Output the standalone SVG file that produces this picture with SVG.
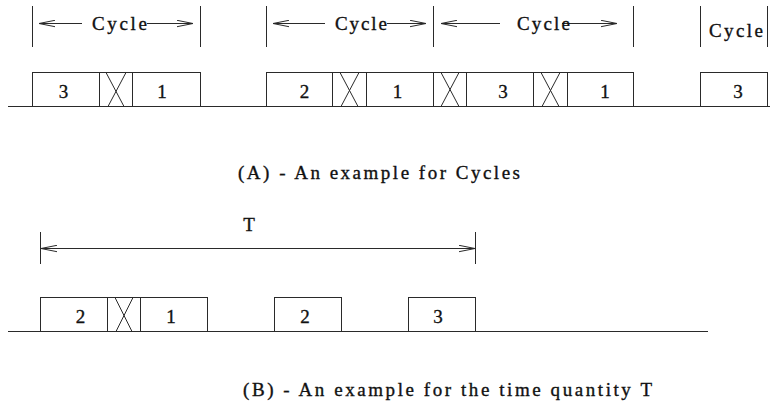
<svg xmlns="http://www.w3.org/2000/svg" width="772" height="416" viewBox="0 0 772 416">
<style>
.ln{stroke:#2a2a2a;stroke-width:1;fill:none}
.bx{stroke:#2a2a2a;stroke-width:1;fill:#fff}
.t{fill:#111;stroke:#111;stroke-width:0.35}
.d{fill:#111;stroke:#111;stroke-width:0.35;text-anchor:middle}
</style>
<defs>
<marker id="ah" viewBox="0 0 16 8" refX="16" refY="4" markerWidth="16" markerHeight="8" markerUnits="userSpaceOnUse" orient="auto-start-reverse">
<path d="M0,0.8 L16,4 L0,7.2" fill="none" stroke="#2a2a2a" stroke-width="1"/>
</marker>
</defs>
<rect width="772" height="416" fill="#fff"/>

<g id="axes">
<line class="ln" x1="8" y1="106.5" x2="770" y2="106.5"/>
<line class="ln" x1="8" y1="331.5" x2="708" y2="331.5"/>
</g>

<g id="connectors">
<line class="ln" x1="32.5" y1="6" x2="32.5" y2="47"/>
<line class="ln" x1="200.5" y1="6" x2="200.5" y2="47"/>
<line class="ln" x1="82" y1="23.5" x2="39" y2="23.5" marker-end="url(#ah)"/>
<line class="ln" x1="147" y1="23.5" x2="193" y2="23.5" marker-end="url(#ah)"/>
<line class="ln" x1="266.5" y1="6" x2="266.5" y2="47"/>
<line class="ln" x1="433.5" y1="6" x2="433.5" y2="47"/>
<line class="ln" x1="325" y1="23.5" x2="273" y2="23.5" marker-end="url(#ah)"/>
<line class="ln" x1="387" y1="23.5" x2="426" y2="23.5" marker-end="url(#ah)"/>
<line class="ln" x1="633.5" y1="6" x2="633.5" y2="47"/>
<line class="ln" x1="500" y1="23.5" x2="441" y2="23.5" marker-end="url(#ah)"/>
<line class="ln" x1="562" y1="23.5" x2="617" y2="23.5" marker-end="url(#ah)"/>
<line class="ln" x1="700.5" y1="6" x2="700.5" y2="47"/>
<line class="ln" x1="767.5" y1="6" x2="767.5" y2="47"/>
<line class="ln" x1="40.5" y1="232" x2="40.5" y2="264"/>
<line class="ln" x1="475.5" y1="232" x2="475.5" y2="264"/>
<line class="ln" x1="41" y1="248.5" x2="475" y2="248.5" marker-start="url(#ah)" marker-end="url(#ah)"/>
</g>

<g font-family="Liberation Serif, DejaVu Serif, serif" font-size="19">
<g id="cycle-labels">
<text class="t" x="92" y="30" textLength="55" lengthAdjust="spacing">Cycle</text>
<text class="t" x="335" y="30" textLength="52" lengthAdjust="spacing">Cycle</text>
<text class="t" x="517" y="30" textLength="53" lengthAdjust="spacing">Cycle</text>
<text class="t" x="709" y="37" textLength="54" lengthAdjust="spacing">Cycle</text>
<text class="t" x="249" y="231" text-anchor="middle">T</text>
</g>

<g id="a1"><rect class="bx" x="32.5" y="72.5" width="67" height="34"/><text class="d" x="63.5" y="98">3</text></g>
<g id="a2"><rect class="bx" x="99.5" y="72.5" width="33" height="34"/><path class="ln" d="M106,72.5 L124,106.5 M126,72.5 L108,106.5"/></g>
<g id="a3"><rect class="bx" x="132.5" y="72.5" width="68" height="34"/><text class="d" x="162" y="98">1</text></g>
<g id="a4"><rect class="bx" x="266.5" y="72.5" width="66" height="34"/><text class="d" x="304.5" y="98">2</text></g>
<g id="a5"><rect class="bx" x="332.5" y="72.5" width="34" height="34"/><path class="ln" d="M340,72.5 L358,106.5 M359,72.5 L341,106.5"/></g>
<g id="a6"><rect class="bx" x="366.5" y="72.5" width="67" height="34"/><text class="d" x="397.5" y="98">1</text></g>
<g id="a7"><rect class="bx" x="433.5" y="72.5" width="33" height="34"/><path class="ln" d="M441,72.5 L459,106.5 M459,72.5 L441,106.5"/></g>
<g id="a8"><rect class="bx" x="466.5" y="72.5" width="67" height="34"/><text class="d" x="503" y="98">3</text></g>
<g id="a9"><rect class="bx" x="533.5" y="72.5" width="34" height="34"/><path class="ln" d="M541,72.5 L559,106.5 M560,72.5 L542,106.5"/></g>
<g id="a10"><rect class="bx" x="567.5" y="72.5" width="66" height="34"/><text class="d" x="605" y="98">1</text></g>
<g id="a11"><rect class="bx" x="700.5" y="72.5" width="67" height="34"/><text class="d" x="738" y="98">3</text></g>

<g id="b1"><rect class="bx" x="40.5" y="297.5" width="67" height="34"/><text class="d" x="80.5" y="323">2</text></g>
<g id="b2"><rect class="bx" x="107.5" y="297.5" width="33" height="34"/><path class="ln" d="M115,297.5 L132,331.5 M133,297.5 L116,331.5"/></g>
<g id="b3"><rect class="bx" x="140.5" y="297.5" width="67" height="34"/><text class="d" x="171" y="323">1</text></g>
<g id="b4"><rect class="bx" x="274.5" y="297.5" width="67" height="34"/><text class="d" x="305" y="323">2</text></g>
<g id="b5"><rect class="bx" x="408.5" y="297.5" width="67" height="34"/><text class="d" x="438" y="323">3</text></g>

<g id="captions">
<text class="t" x="238" y="179" textLength="282" lengthAdjust="spacing">(A) - An example for Cycles</text>
<text class="t" x="243" y="396" textLength="409" lengthAdjust="spacing">(B) - An example for the time quantity T</text>
</g>
</g>
</svg>
